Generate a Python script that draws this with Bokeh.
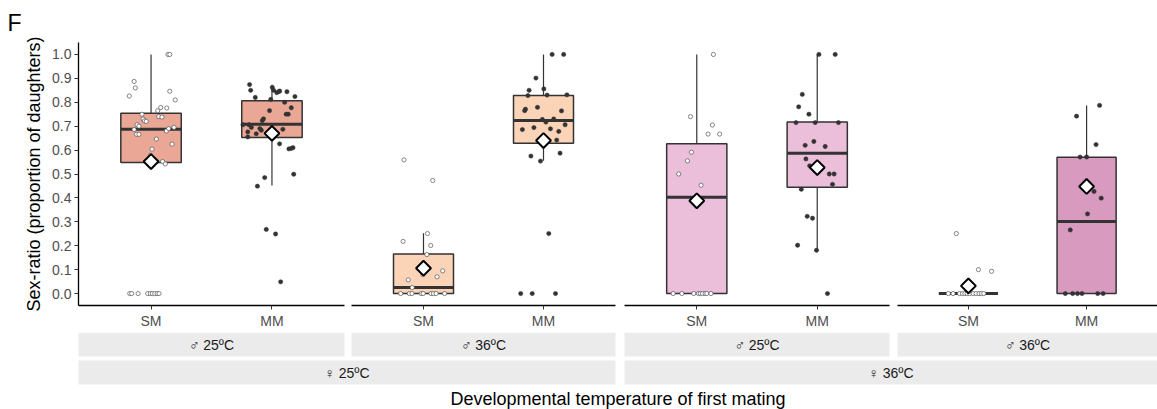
from bokeh.plotting import figure
from bokeh.models import Range1d, FixedTicker, PrintfTickFormatter, ColumnDataSource
from bokeh.layouts import row, column
from bokeh.embed import file_html
from bokeh.resources import INLINE
from bokeh.core.properties import value

# ---------------- data ----------------
groups = ["SM", "MM"]
male_labels = ["\u2642 25\u00baC", "\u2642 36\u00baC", "\u2642 25\u00baC", "\u2642 36\u00baC"]
female_labels = ["\u2640 25\u00baC", "\u2640 36\u00baC"]
y_ticks = [0.0, 0.1, 0.2, 0.3, 0.4, 0.5, 0.6, 0.7, 0.8, 0.9, 1.0]
box_colors = ["#EAA796", "#FBD3B7", "#EBBED9", "#D99ABF"]

# box statistics per panel: [SM, MM]
box_lo = [[0.548, 0.452], [0.0, 0.555], [0.0, 0.183], [0.0, 0.0]]
box_q1 = [[0.548, 0.653], [0.0, 0.629], [0.0, 0.445], [0.0, 0.0]]
box_med = [[0.687, 0.708], [0.025, 0.724], [0.403, 0.587], [0.0, 0.301]]
box_q3 = [[0.754, 0.806], [0.165, 0.828], [0.626, 0.717], [0.0, 0.570]]
box_hi = [[1.0, 0.873], [0.252, 1.0], [1.0, 1.0], [0.0, 0.787]]
box_mean = [[0.552, 0.670], [0.106, 0.640], [0.388, 0.527], [0.032, 0.448]]

p1_sm_y = [1.0, 1.0, 0.887, 0.86, 0.826, 0.846, 0.81, 0.778, 0.776, 0.765, 0.75, 0.74, 0.738,
           0.73, 0.722, 0.72, 0.706, 0.70, 0.695, 0.686, 0.68, 0.69, 0.666, 0.666, 0.646, 0.625,
           0.604, 0.578, 0.552, 0.542, 0, 0, 0, 0, 0, 0, 0, 0, 0]
p1_sm_dx = [0.14, 0.155, -0.14, -0.13, -0.18, 0.155, 0.2, 0.08, 0.13, 0.055, -0.075, 0.063, 0.09,
            -0.066, -0.055, -0.04, -0.115, -0.1, 0.19, -0.14, 0.127, 0.146, -0.12, -0.1, 0.044, 0.174,
            0.008, -0.005, 0.096, 0.118, -0.176, -0.16, -0.107, -0.028, -0.006, 0.011, 0.03, 0.05, 0.066]
p1_mm_y = [0.874, 0.85, 0.82, 0.862, 0.85, 0.84, 0.845, 0.847, 0.844, 0.824, 0.812, 0.80, 0.777,
           0.765, 0.75, 0.75, 0.731, 0.723, 0.706, 0.706, 0.695, 0.69, 0.683, 0.687, 0.676, 0.668,
           0.655, 0.626, 0.605, 0.607, 0.61, 0.499, 0.485, 0.449, 0.268, 0.249, 0.049]
p1_mm_dx = [-0.185, -0.176, -0.138, 0.003, 0.014, 0.04, 0.058, 0.064, 0.124, 0.19, -0.01, 0.105, 0.16,
            -0.02, 0.118, 0.135, -0.07, -0.08, -0.24, -0.19, -0.17, -0.1, -0.088, 0.09, -0.2, -0.13,
            -0.2, 0.063, 0.14, 0.16, 0.174, 0.18, -0.06, -0.12, -0.047, 0.03, 0.072]
p2_sm_y = [0.559, 0.473, 0.251, 0.218, 0.201, 0.163, 0.095, 0.07, 0.057, 0.079, 0.025,
           0, 0, 0, 0, 0, 0, 0, 0, 0]
p2_sm_dx = [-0.163, 0.077, 0.033, -0.17, 0.06, 0.028, 0.16, 0.113, -0.127, -0.005, -0.094,
            -0.19, -0.118, -0.096, -0.019, -0.003, 0.063, 0.083, 0.105, 0.176]
p2_mm_y = [1.0, 1.0, 0.901, 0.856, 0.85, 0.828, 0.83, 0.831, 0.771, 0.765, 0.779, 0.764, 0.728,
           0.717, 0.73, 0.706, 0.686, 0.694, 0.689, 0.678, 0.642, 0.575, 0.587, 0.554, 0.251, 0, 0, 0]
p2_mm_dx = [0.072, 0.168, -0.063, 0.003, -0.12, -0.13, 0.03, 0.195, -0.15, -0.157, -0.05, 0.15, -0.01,
            0.02, 0.085, 0.18, -0.176, -0.08, 0.058, 0.127, 0.11, -0.105, 0.138, -0.025, 0.044,
            -0.19, -0.094, 0.1]
p3_sm_y = [1.0, 0.74, 0.705, 0.667, 0.667, 0.591, 0.555, 0.5, 0.453, 0, 0, 0, 0, 0, 0, 0, 0, 0]
p3_sm_dx = [0.138, -0.052, 0.13, 0.094, 0.19, -0.044, -0.077, -0.15, 0.036,
            -0.196, -0.124, -0.025, 0.014, 0.03, 0.047, 0.069, 0.083, 0.118]
p3_mm_y = [1.0, 1.0, 0.833, 0.781, 0.75, 0.715, 0.715, 0.715, 0.636, 0.62, 0.615, 0.563, 0.534,
           0.5, 0.5, 0.457, 0.436, 0.323, 0.315, 0.202, 0.181, 0.0]
p3_mm_dx = [0.014, 0.149, -0.124, -0.154, -0.069, -0.176, -0.017, 0.176, -0.028, -0.1, 0.066, -0.094,
            -0.063, 0.1, 0.14, 0.127, -0.132, -0.083, -0.039, -0.163, -0.006, 0.085]
p4_sm_y = [0.251, 0.1, 0.093, 0, 0, 0, 0, 0, 0, 0, 0, 0, 0, 0, 0]
p4_sm_dx = [-0.102, 0.085, 0.196, -0.17, -0.13, -0.075, -0.05, -0.03, -0.01, 0.01, 0.04, 0.065,
            0.09, 0.11, 0.13]
p4_mm_y = [0.787, 0.742, 0.623, 0.571, 0.571, 0.427, 0.399, 0.333, 0.266, 0, 0, 0, 0, 0, 0]
p4_mm_dx = [0.11, -0.085, 0.08, -0.055, 0.0, 0.063, 0.124, 0.008, -0.138,
            -0.18, -0.118, -0.077, -0.039, 0.094, 0.14]

points_y = [[p1_sm_y, p1_mm_y], [p2_sm_y, p2_mm_y], [p3_sm_y, p3_mm_y], [p4_sm_y, p4_mm_y]]
points_dx = [[p1_sm_dx, p1_mm_dx], [p2_sm_dx, p2_mm_dx], [p3_sm_dx, p3_mm_dx], [p4_sm_dx, p4_mm_dx]]

# ---------------- layout constants ----------------
FONT = "Liberation Sans"
TOP = 41
PANEL_H = 263
BOTTOM = 27
ROW_H = TOP + PANEL_H + BOTTOM
LEFT0 = 78
frame_widths = [266, 264, 265, 260]
right_gaps = [7, 9, 8, 0]
BOX_HALF = 0.25
pos = {g: i + 1 for i, g in enumerate(groups)}

panels = []
for k in range(4):
    left = LEFT0 if k == 0 else 0
    p = figure(frame_width=frame_widths[k], frame_height=PANEL_H,
               x_range=Range1d(0.4, 2.6), y_range=Range1d(-0.05, 1.05),
               output_backend="svg", toolbar_location=None,
               min_border_left=left, min_border_right=right_gaps[k],
               min_border_top=TOP, min_border_bottom=BOTTOM)
    p.outline_line_color = None
    p.xgrid.visible = False
    p.ygrid.visible = False
    p.background_fill_color = "white"
    p.border_fill_color = "white"

    xs = [pos[g] for g in groups]
    src = ColumnDataSource(dict(
        x=xs, l=[x - BOX_HALF for x in xs], r=[x + BOX_HALF for x in xs],
        lo=box_lo[k], q1=box_q1[k], med=box_med[k], q3=box_q3[k], hi=box_hi[k], mean=box_mean[k]))
    p.segment(x0="x", y0="q3", x1="x", y1="hi", source=src, line_color="#333333", line_width=1.2)
    p.segment(x0="x", y0="lo", x1="x", y1="q1", source=src, line_color="#333333", line_width=1.2)
    p.quad(left="l", right="r", bottom="q1", top="q3", source=src,
           fill_color=box_colors[k], line_color="#333333", line_width=1.5)
    p.segment(x0="l", y0="med", x1="r", y1="med", source=src, line_color="#333333", line_width=3)

    for gi, g in enumerate(groups):
        px = [pos[g] + d for d in points_dx[k][gi]]
        py = points_y[k][gi]
        if g == "SM":
            p.scatter(px, py, marker="circle", size=4.2, fill_color="white",
                      line_color="#555555", line_width=0.7)
        else:
            p.scatter(px, py, marker="circle", size=4.3, fill_color="#333333",
                      line_color="#333333", line_width=0.5)

    p.scatter(x="x", y="mean", source=src, marker="square", angle=0.7854, size=10.5,
              fill_color="white", line_color="black", line_width=2)

    # x axis
    xa = p.xaxis[0]
    xa.ticker = FixedTicker(ticks=xs)
    xa.major_label_overrides = {pos[g]: g for g in groups}
    xa.minor_tick_line_color = None
    xa.major_tick_in = 0
    xa.major_tick_out = 4
    xa.major_tick_line_color = "#333333"
    xa.axis_line_color = "black"
    xa.axis_line_width = 1.3
    xa.major_label_text_font = FONT
    xa.major_label_text_font_size = "14px"
    xa.major_label_text_color = "#4D4D4D"
    xa.major_label_standoff = 3

    ya = p.yaxis[0]
    if k == 0:
        ya.ticker = FixedTicker(ticks=y_ticks)
        ya.formatter = PrintfTickFormatter(format="%.1f")
        ya.minor_tick_line_color = None
        ya.major_tick_in = 0
        ya.major_tick_out = 4
        ya.major_tick_line_color = "#333333"
        ya.axis_line_color = "black"
        ya.axis_line_width = 1.3
        ya.major_label_text_font = FONT
        ya.major_label_text_font_size = "14px"
        ya.major_label_text_color = "#4D4D4D"
        ya.major_label_standoff = 3
        ya.axis_label = "Sex-ratio (proportion of daughters)"
        ya.axis_label_text_font = FONT
        ya.axis_label_text_font_size = "18px"
        ya.axis_label_text_font_style = "normal"
        ya.axis_label_text_color = "black"
        ya.axis_label_standoff = 5
        p.title.text = "F"
        p.title.text_font = FONT
        p.title.text_font_size = "23px"
        p.title.text_font_style = "normal"
        p.title.text_color = "black"
        p.title.align = "left"
        p.title.offset = -71
        p.title.standoff = 14
    else:
        ya.visible = False
    panels.append(p)

# ---------------- strips ----------------
STRIP_H = 409 - ROW_H
strip = figure(width=1157, height=STRIP_H, x_range=Range1d(0, 1157), y_range=Range1d(STRIP_H, 0),
               output_backend="svg", toolbar_location=None,
               min_border_left=0, min_border_right=0, min_border_top=0, min_border_bottom=0)
strip.axis.visible = False
strip.grid.visible = False
strip.outline_line_color = None

starts = []
x = LEFT0
for k in range(4):
    starts.append(x)
    x += frame_widths[k] + right_gaps[k]
ends = [s + w for s, w in zip(starts, frame_widths)]

row1_top, row1_bot = 0, 24
row2_top, row2_bot = 28, 52
strip.quad(left=starts, right=ends, top=[row1_top] * 4, bottom=[row1_bot] * 4,
           fill_color="#EBEBEB", line_color=None)
strip.text(x=[(s + e) / 2 for s, e in zip(starts, ends)], y=[(row1_top + row1_bot) / 2] * 4,
           text=male_labels, text_font=value(FONT), text_font_size="14px",
           text_align="center", text_baseline="middle", text_color="#1A1A1A")
f_left = [starts[0], starts[2]]
f_right = [ends[1], ends[3]]
strip.quad(left=f_left, right=f_right, top=[row2_top] * 2, bottom=[row2_bot] * 2,
           fill_color="#EBEBEB", line_color=None)
strip.text(x=[(a + b) / 2 for a, b in zip(f_left, f_right)], y=[(row2_top + row2_bot) / 2] * 2,
           text=female_labels, text_font=value(FONT), text_font_size="14px",
           text_align="center", text_baseline="middle", text_color="#1A1A1A")
strip.text(x=[(starts[0] + ends[3]) / 2], y=[66], text=["Developmental temperature of first mating"],
           text_font=value(FONT), text_font_size="18px", text_align="center",
           text_baseline="middle", text_color="black")

layout = column(row(*panels), strip)
open("out.html", "w").write(file_html(layout, INLINE))
